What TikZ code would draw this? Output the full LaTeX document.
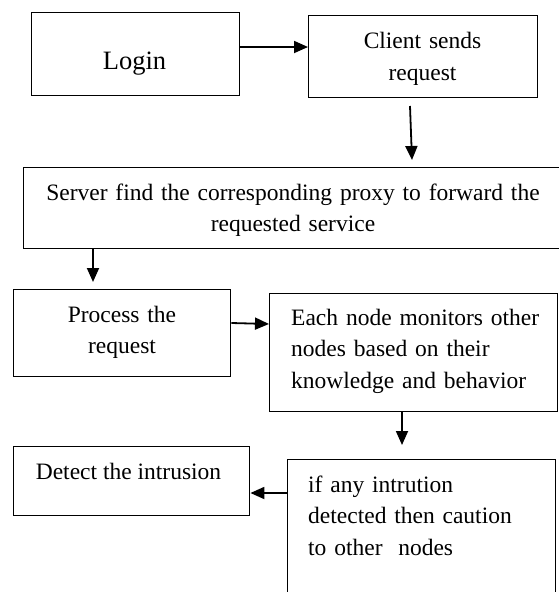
\documentclass[tikz,border=0pt]{standalone}
\usepackage{fontspec}
\setmainfont{Liberation Serif}
\usetikzlibrary{arrows.meta}
\begin{document}
\begin{tikzpicture}[x=1pt,y=-1pt,
  box/.style={draw, line width=1.4pt, inner sep=0pt, anchor=north west},
  txt/.style={inner sep=0pt, font=\fontsize{23.5pt}{31.5pt}\selectfont},
  arr/.style={line width=1.8pt, -{Triangle[length=14pt,width=12pt]}}]
\useasboundingbox (0,0) rectangle (559,592);
\fill[white] (0,0) rectangle (559,592);
\clip (0,0) rectangle (559,592);
% boxes
\node[box, minimum width=208pt, minimum height=83pt] (login) at (31,12) {};
\node[box, minimum width=229pt, minimum height=82pt] (client) at (308,15) {};
\node[box, minimum width=540pt, minimum height=81pt] (server) at (23,167) {};
\node[box, minimum width=217pt, minimum height=87pt] (process) at (13,289) {};
\node[box, minimum width=288pt, minimum height=118pt] (each) at (269,293) {};
\node[box, minimum width=236pt, minimum height=69pt] (detect) at (13,446) {};
\node[box, minimum width=268pt, minimum height=145pt] (iff) at (287,459) {};
% texts
\node[txt, anchor=base, font=\fontsize{26.5pt}{31.5pt}\selectfont] (tlogin) at (134.5,69) {Login};
\node[txt, anchor=base, text width=220pt, align=center] (tclient) at (422.5,48.5) {Client sends\\request};
\node[txt, anchor=base, text width=530pt, align=center] (tserver) at (293,200) {Server find the corresponding proxy to forward the\\requested service};
\node[txt, anchor=base, text width=200pt, align=center] (tprocess) at (122,322) {Process the\\request};
\node[txt, anchor=base west, text width=262pt, align=left] (teach) at (291,325) {Each node monitors other\\nodes based on their\\knowledge and behavior};
\node[txt, anchor=base] (tdetect) at (128.5,479) {Detect the intrusion};
\node[txt, anchor=base west, text width=240pt, align=left] (tiff) at (308,492) {if any intrution\\detected then caution\\to other\ \ nodes};
% free ends of connectors
\coordinate (c1) at (410,106);
\coordinate (c2) at (412,160);
\coordinate (s1) at (93,282);
\coordinate (e1) at (402,445);
% connectors
\draw[arr] (login.east |- 0,47) -- (client.west |- 0,47);
\draw[arr] (c1) -- (c2);
\draw[arr] (server.south -| 93,0) -- (s1);
\draw[arr] (process.east |- 0,323) -- (each.west |- 0,324);
\draw[arr] (each.south -| e1) -- (e1);
\draw[arr] (iff.west |- 0,493) -- (detect.east |- 0,493);
\end{tikzpicture}
\end{document}
